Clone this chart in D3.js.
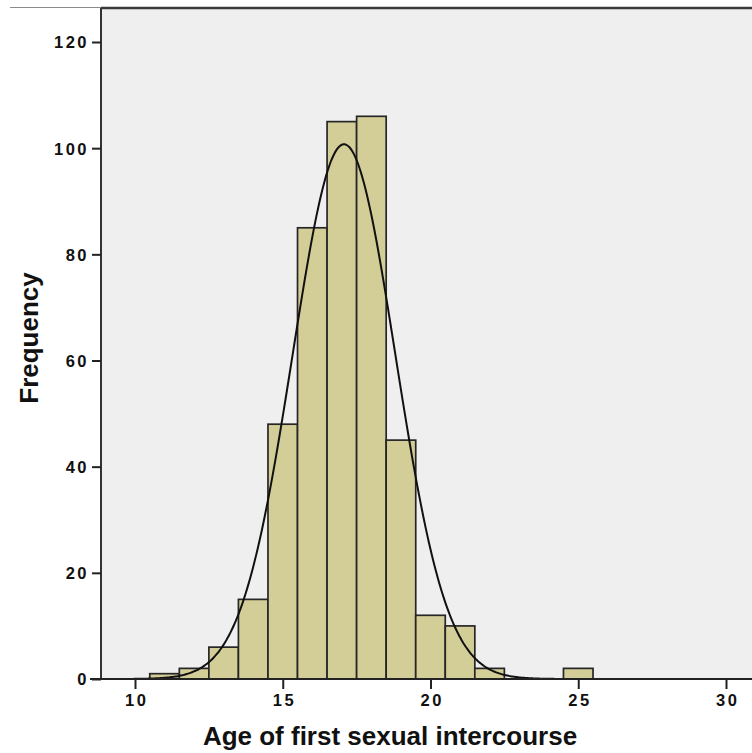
<!DOCTYPE html>
<html>
<head>
<meta charset="utf-8">
<script src="https://cdn.jsdelivr.net/npm/d3@7"></script>
<style>
  html, body { margin: 0; padding: 0; background: #ffffff; }
  svg { display: block; }
  text { font-family: Arial, "Liberation Sans", sans-serif; font-weight: bold; fill: #111; }
</style>
</head>
<body>
<svg id="chart" width="752" height="753"></svg>
<script>
// Data (bin centres, width 1)
const ages = [11, 12, 13, 14, 15, 16, 17, 18, 19, 20, 21, 22, 25];
const frequencies = [1, 2, 6, 15, 48, 85, 105, 106, 45, 12, 10, 2, 2];
const xTicks = [10, 15, 20, 25, 30];
const yTicks = [0, 20, 40, 60, 80, 100, 120];
const binWidth = 1;
const xTitle = "Age of first sexual intercourse";
const yTitle = "Frequency";

const svg = d3.select("#chart");

const x = d3.scaleLinear().domain([10, 30]).range([135, 726]);
const y = d3.scaleLinear().domain([0, 120]).range([679, 42]);

const plotLeft = 101, plotTop = 8, plotRight = 770, plotBottom = 679;

// outer thin frame line (top-left portion visible)
svg.append("line")
  .attr("x1", 10).attr("x2", plotLeft).attr("y1", 7.5).attr("y2", 7.5)
  .attr("stroke", "#8a8a8a").attr("stroke-width", 1);

// plot background
svg.append("rect")
  .attr("x", plotLeft).attr("y", plotTop)
  .attr("width", plotRight - plotLeft).attr("height", plotBottom - plotTop)
  .attr("fill", "#efefef");

// bars
const bins = ages.map((a, i) => ({ age: a, n: frequencies[i] }));
svg.append("g").selectAll("rect").data(bins).join("rect")
  .attr("x", d => x(d.age - binWidth / 2))
  .attr("y", d => y(d.n))
  .attr("width", d => x(d.age + binWidth / 2) - x(d.age - binWidth / 2))
  .attr("height", d => y(0) - y(d.n))
  .attr("fill", "#d3ce97")
  .attr("stroke", "#262626")
  .attr("stroke-width", 1.7);

// normal curve fitted to the histogram data
const N = d3.sum(frequencies);
const mean = d3.sum(ages, (a, i) => a * frequencies[i]) / N;
const variance = d3.sum(ages, (a, i) => frequencies[i] * (a - mean) ** 2) / (N - 1);
const sd = Math.sqrt(variance);
const curvePts = d3.range(x.invert(plotLeft), x.invert(752) + 0.05, 0.05).map(v => [
  v, N * binWidth / (sd * Math.sqrt(2 * Math.PI)) * Math.exp(-0.5 * ((v - mean) / sd) ** 2)
]);
svg.append("path")
  .datum(curvePts)
  .attr("fill", "none")
  .attr("stroke", "#111")
  .attr("stroke-width", 2)
  .attr("d", d3.line().x(d => x(d[0])).y(d => y(d[1])).curve(d3.curveBasis));

// plot frame: top
svg.append("line")
  .attr("x1", plotLeft).attr("x2", 752).attr("y1", plotTop).attr("y2", plotTop)
  .attr("stroke", "#3a3a3a").attr("stroke-width", 2.5);

// y axis
const yAxis = svg.append("g")
  .attr("transform", `translate(${plotLeft},0)`)
  .call(d3.axisLeft(y).tickValues(yTicks).tickSize(9).tickPadding(3).tickFormat(d3.format("d")));
yAxis.select(".domain").attr("stroke", "#333").attr("stroke-width", 2).attr("d", `M0,${plotTop}V${plotBottom}`);
yAxis.selectAll(".tick line").attr("stroke", "#222").attr("stroke-width", 2);
yAxis.selectAll(".tick text")
  .style("font-size", "16.5px").style("letter-spacing", "2.5px")
  .attr("fill", "#111").attr("dy", "0.36em");

// x axis
const xAxis = svg.append("g")
  .attr("transform", `translate(0,${plotBottom})`)
  .call(d3.axisBottom(x).tickValues(xTicks).tickSize(10).tickPadding(5).tickFormat(d3.format("d")));
xAxis.select(".domain").attr("stroke", "#222").attr("stroke-width", 2).attr("d", `M90,0H752`);
xAxis.selectAll(".tick line").attr("stroke", "#222").attr("stroke-width", 2);
xAxis.selectAll(".tick text")
  .style("font-size", "16.5px").style("letter-spacing", "2.5px")
  .attr("fill", "#111").attr("dx", "1.25px");

// axis titles
svg.append("text")
  .attr("x", 390).attr("y", 745)
  .attr("text-anchor", "middle")
  .style("font-size", "26px")
  .text(xTitle);

svg.append("text")
  .attr("transform", "translate(38,338) rotate(-90)")
  .attr("text-anchor", "middle")
  .style("font-size", "26px")
  .text(yTitle);
</script>
</body>
</html>
